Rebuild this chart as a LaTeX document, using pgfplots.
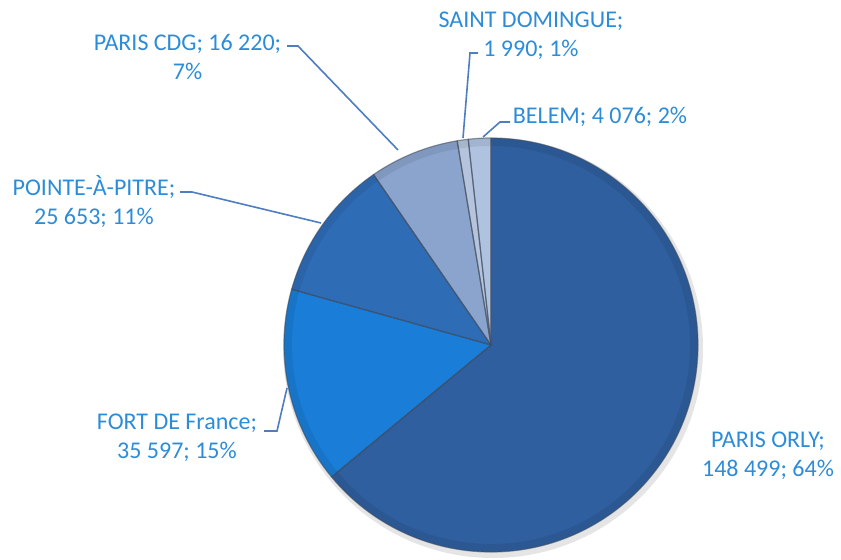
\documentclass[border=0pt]{standalone}
\usepackage{fontspec}
\setmainfont{Carlito}
\usepackage{pgfplots}
\usepackage{pgfplotstable}
\pgfplotsset{compat=1.18}
\definecolor{cOrly}{HTML}{2F5F9E}
\definecolor{cFort}{HTML}{1A7DD7}
\definecolor{cPointe}{HTML}{2F6CB6}
\definecolor{cCdg}{HTML}{8AA4CD}
\definecolor{cSd}{HTML}{B5C4DC}
\definecolor{cBelem}{HTML}{AFC2E0}
\definecolor{cText}{HTML}{2D8CD8}
\definecolor{cLead}{HTML}{4E7DC0}
\definecolor{cEdge}{HTML}{3E4A5C}

\begin{document}
\begin{tikzpicture}[
  lbl/.style={text=cText, align=center, inner sep=0pt,
    font=\fontsize{12}{14.7}\selectfont},
]
% passengers per airport, in chart order (clockwise from 12 o'clock)
\pgfplotstableread{
name    value  col
ORLY    148499 cOrly
FORT    35597  cFort
POINTE  25653  cPointe
CDG     16220  cCdg
SD      1990   cSd
BELEM   4076   cBelem
}\pietable

\gdef\pietotal{0}
\foreach \i in {0,...,5}{%
  \pgfplotstablegetelem{\i}{value}\of\pietable
  \xdef\pietotal{\fpeval{\pietotal+\pgfplotsretval}}%
}
\gdef\cum{0}
\foreach \i in {0,...,5}{%
  \pgfplotstablegetelem{\i}{value}\of\pietable
  \expandafter\xdef\csname pieS\i\endcsname{\fpeval{90-360*\cum/\pietotal}}%
  \xdef\cum{\fpeval{\cum+\pgfplotsretval}}%
  \expandafter\xdef\csname pieE\i\endcsname{\fpeval{90-360*\cum/\pietotal}}%
  \pgfplotstablegetelem{\i}{col}\of\pietable
  \expandafter\xdef\csname pieC\i\endcsname{\pgfplotsretval}%
}

\begin{axis}[
  x=0.5pt, y=0.5pt, xmin=0, xmax=841, ymin=0, ymax=559,
  hide axis, clip=false, disabledatascaling,
]
  \path (axis cs:0,0) rectangle (axis cs:841,559);
  % soft shadow
  \fill[black, opacity=0.10] (axis cs:493,211) circle[radius=105pt];
  \pgfplotsinvokeforeach{0,...,5}{%
    \edef\temp{\noexpand\fill[fill=\csname pieC#1\endcsname]
      (axis cs:491,214) -- ++(\csname pieS#1\endcsname:103.5pt)
      arc[start angle=\csname pieS#1\endcsname, end angle=\csname pieE#1\endcsname, radius=103.5pt] -- cycle;}%
    \temp
  }
  % bevel: faint darker rim, then slice borders
  \draw[black, opacity=0.07, line width=4pt] (axis cs:491,214) circle[radius=101.5pt];
  \pgfplotsinvokeforeach{0,...,5}{%
    \edef\temp{\noexpand\draw[cEdge, opacity=0.55, line width=0.6pt, line join=round]
      (axis cs:491,214) -- ++(\csname pieS#1\endcsname:103.5pt)
      arc[start angle=\csname pieS#1\endcsname, end angle=\csname pieE#1\endcsname, radius=103.5pt] -- cycle;}%
    \temp
  }

  % leader lines
  \draw[cLead, line width=0.8pt] (axis cs:287,513) -- (axis cs:298,513) -- (axis cs:398,409);
  \draw[cLead, line width=0.8pt] (axis cs:478,506) -- (axis cs:470,506) -- (axis cs:463,421);
  \draw[cLead, line width=0.8pt] (axis cs:510,437) -- (axis cs:500,437) -- (axis cs:483,422);
  \draw[cLead, line width=0.8pt] (axis cs:180,367) -- (axis cs:192,367) -- (axis cs:321,336);
  \draw[cLead, line width=0.8pt] (axis cs:264,128) -- (axis cs:277,128) -- (axis cs:287,171);

  % labels
  \node[lbl] at (axis cs:187.5,502) {PARIS CDG; 16 220;\\7\%};
  \node[lbl] at (axis cs:531,523) {SAINT DOMINGUE;\\1 990; 1\%};
  \node[lbl] at (axis cs:600,442) {BELEM; 4 076; 2\%};
  \node[lbl] at (axis cs:94,357.5) {POINTE-À-PITRE;\\25 653; 11\%};
  \node[lbl] at (axis cs:177,121.5) {FORT DE France;\\35 597; 15\%};
  \node[lbl] at (axis cs:768,103.5) {PARIS ORLY;\\148 499; 64\%};
\end{axis}
\end{tikzpicture}
\end{document}
